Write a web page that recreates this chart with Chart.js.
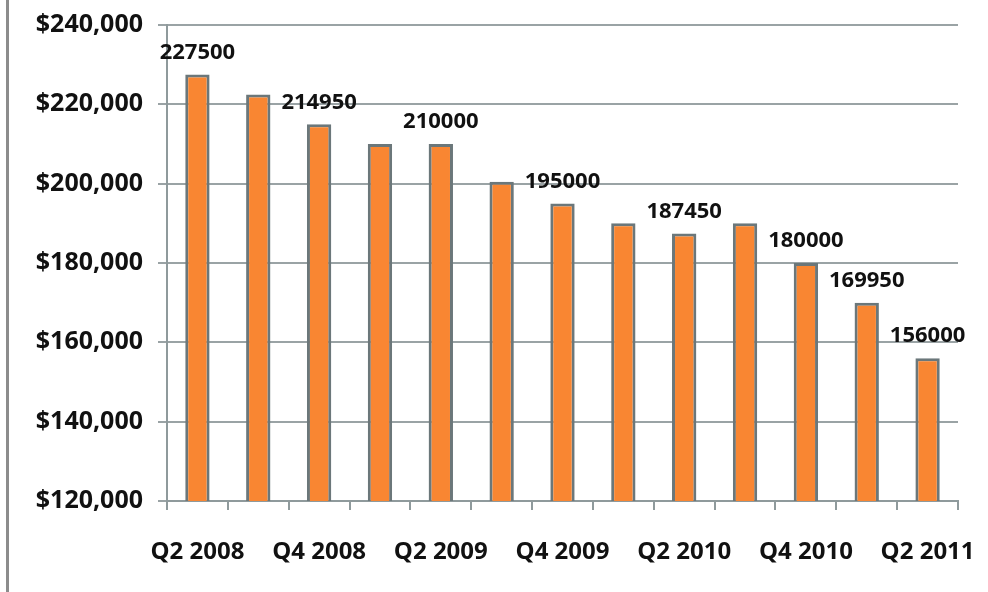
<!DOCTYPE html>
<html>
<head>
<meta charset="utf-8">
<script src="https://cdn.jsdelivr.net/npm/chart.js@4/dist/chart.umd.min.js"></script>
<style>
  html, body { margin: 0; padding: 0; background: #fff; }
  #wrap { position: relative; width: 988px; height: 592px; }
  #frame { position: absolute; left: 6px; top: 0; width: 3px; height: 592px; background: #8c8c8c; }
</style>
</head>
<body>
<div id="wrap">
  <div id="frame"></div>
  <canvas id="chart" width="988" height="592"></canvas>
</div>
<script>
// quarters shown on the x axis (only every other one gets a label)
const quarters = ['Q2 2008', 'Q3 2008', 'Q4 2008', 'Q1 2009', 'Q2 2009', 'Q3 2009', 'Q4 2009',
  'Q1 2010', 'Q2 2010', 'Q3 2010', 'Q4 2010', 'Q1 2011', 'Q2 2011'];
const medianPrice = [227500, 222500, 214950, 210000, 210000, 200500, 195000,
  190000, 187450, 190000, 180000, 169950, 156000];
// which bars carry a value label
const showValue = [true, false, true, false, true, false, true, false, true, false, true, true, true];
const yTicks = [120000, 140000, 160000, 180000, 200000, 220000, 240000];

const fontFamily = '"Open Sans", Lato, sans-serif';

const valueLabels = {
  id: 'valueLabels',
  afterDatasetsDraw(chart) {
    const ctx = chart.ctx;
    const meta = chart.getDatasetMeta(0);
    ctx.save();
    ctx.font = 'bold 22px ' + fontFamily;
    ctx.fillStyle = '#111';
    ctx.textAlign = 'center';
    ctx.textBaseline = 'bottom';
    meta.data.forEach((bar, i) => {
      if (!showValue[i]) return;
      ctx.fillText(String(medianPrice[i]), bar.x, bar.y - 11);
    });
    ctx.restore();
  }
};

new Chart(document.getElementById('chart'), {
  type: 'bar',
  data: {
    labels: quarters,
    datasets: [{
      data: medianPrice,
      backgroundColor: '#f98632',
      borderColor: '#6b777a',
      borderWidth: 3,
      barPercentage: 0.4,
      categoryPercentage: 1
    }]
  },
  options: {
    responsive: false,
    animation: false,
    layout: { padding: { left: 0, right: 30, top: 25, bottom: 0 } },
    plugins: { legend: { display: false }, tooltip: { enabled: false } },
    scales: {
      x: {
        offset: true,
        grid: { display: true, drawOnChartArea: false, drawTicks: true, tickLength: 9, color: '#8f9a9c', lineWidth: 2, offset: true },
        border: { color: '#8f9a9c', width: 2 },
        ticks: {
          autoSkip: false,
          maxRotation: 0,
          padding: 28,
          color: '#111',
          font: { family: fontFamily, size: 24, weight: 'bold' },
          callback: (v, i) => (i % 2 === 0 ? quarters[i] : '')
        },
        afterFit(scale) {
          scale.height = 91;
          scale.paddingLeft = 0;
          scale.paddingRight = 0;
        }
      },
      y: {
        min: 120000,
        max: 240000,
        afterBuildTicks(scale) { scale.ticks = yTicks.map(v => ({ value: v })); },
        grid: { color: '#9aa3a5', lineWidth: 2, tickLength: 9 },
        border: { color: '#8f9a9c', width: 2 },
        ticks: {
          padding: 15,
          color: '#111',
          font: { family: fontFamily, size: 25, weight: 'bold' },
          callback: v => '$' + v.toLocaleString('en-US')
        },
        afterFit(scale) {
          scale.width = 167;
          scale.paddingTop = 0;
          scale.paddingBottom = 0;
        }
      }
    }
  },
  plugins: [valueLabels]
});
</script>
</body>
</html>
